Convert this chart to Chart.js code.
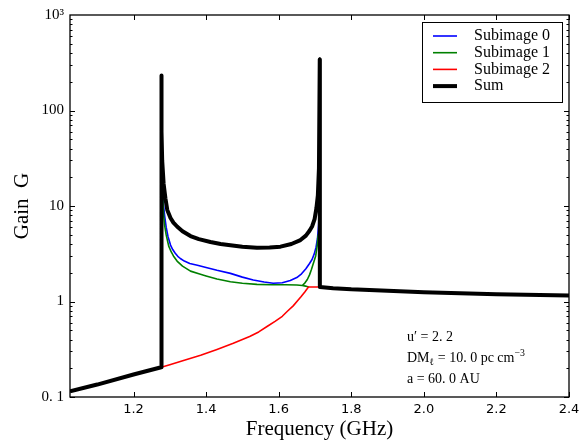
<!DOCTYPE html>
<html>
<head>
<meta charset="utf-8">
<script src="https://cdn.jsdelivr.net/npm/chart.js@4"></script>
<style>
  body { margin: 0; background: #fff; }
  canvas { display: block; }
</style>
</head>
<body>
<canvas id="gainChart" width="585" height="440"></canvas>
<script>
// values (frequency in GHz, gain G)
const blueFreq = [1.2772, 1.279, 1.281, 1.283, 1.286, 1.29, 1.295, 1.302, 1.308, 1.315, 1.322, 1.329, 1.34, 1.355, 1.376, 1.4, 1.43, 1.467, 1.5, 1.53, 1.56, 1.585, 1.61, 1.632, 1.65, 1.663, 1.675, 1.685, 1.692, 1.698, 1.703, 1.707, 1.71, 1.712, 1.7125, 1.7132];
const blueGain = [60, 20, 13, 10, 7.8, 6.0, 4.8, 3.9, 3.5, 3.2, 2.97, 2.82, 2.65, 2.5, 2.4, 2.27, 2.12, 1.97, 1.8, 1.68, 1.6, 1.55, 1.57, 1.66, 1.78, 1.95, 2.2, 2.5, 2.75, 3.15, 3.7, 4.6, 6.3, 9, 12, 40];

// subimage 1 folds back near 1.68 GHz, so its path runs back on itself
const greenFreq = [1.2772, 1.279, 1.281, 1.283, 1.286, 1.29, 1.297, 1.304, 1.31, 1.32, 1.335, 1.357, 1.38, 1.4, 1.43, 1.467, 1.5, 1.54, 1.58, 1.62, 1.65, 1.665, 1.674, 1.682, 1.674, 1.665, 1.672, 1.679, 1.685, 1.69, 1.697, 1.702, 1.706, 1.709, 1.711, 1.7128, 1.7132];
const greenGain = [60, 18, 11, 8, 6.2, 5, 3.8, 3.3, 3.0, 2.65, 2.35, 2.08, 1.95, 1.85, 1.72, 1.61, 1.55, 1.51, 1.5, 1.5, 1.49, 1.47, 1.45, 1.42, 1.45, 1.47, 1.56, 1.7, 1.9, 2.15, 2.6, 3.0, 3.8, 5, 7, 15, 40];

const redFreq = [1.025, 1.1, 1.2, 1.2765, 1.3, 1.34, 1.385, 1.43, 1.475, 1.5, 1.52, 1.545, 1.569, 1.59, 1.61, 1.624, 1.64, 1.652, 1.662, 1.672, 1.678, 1.682, 1.7135, 1.75, 1.8, 2.0, 2.2, 2.4];
const redGain = [0.115, 0.135, 0.172, 0.205, 0.218, 0.243, 0.274, 0.315, 0.365, 0.4, 0.43, 0.48, 0.55, 0.62, 0.7, 0.79, 0.9, 1.02, 1.13, 1.26, 1.35, 1.42, 1.42, 1.38, 1.34, 1.25, 1.19, 1.155];

const sumFreq = [1.025, 1.1, 1.2, 1.2765, 1.2768, 1.2775, 1.279, 1.283, 1.288, 1.293, 1.302, 1.31, 1.32, 1.335, 1.357, 1.38, 1.412, 1.44, 1.467, 1.5, 1.54, 1.575, 1.605, 1.635, 1.66, 1.675, 1.685, 1.692, 1.699, 1.704, 1.708, 1.711, 1.7132, 1.7135, 1.75, 1.8, 2.0, 2.2, 2.4];
const sumGain = [0.115, 0.135, 0.172, 0.205, 232, 60, 30, 17, 12, 9.1, 7.5, 6.7, 6.1, 5.45, 4.85, 4.5, 4.2, 4.0, 3.88, 3.75, 3.65, 3.67, 3.75, 4.0, 4.4, 4.9, 5.5, 6.1, 7.3, 9.5, 13, 25, 343, 1.42, 1.38, 1.34, 1.25, 1.19, 1.155];

const xTicks = [1.2, 1.4, 1.6, 1.8, 2.0, 2.2, 2.4];
const yTicks = [0.1, 1, 10, 100, 1000];
const yTickLabels = ['0. 1', '1', '10', '100', '10³'];

const seriesLabels = ['Subimage 0', 'Subimage 1', 'Subimage 2', 'Sum'];

const SERIF = '"Liberation Serif", "DejaVu Serif", serif';

function toPoints(xs, ys) {
    return xs.map((x, i) => ({ x: x, y: ys[i] }));
}

// lower order is painted last (on top), so Sum gets order 0
function lineSet(label, xs, ys, color, width, order) {
    return {
        label: label,
        data: toPoints(xs, ys),
        borderColor: color,
        borderWidth: width,
        order: order,
        pointRadius: 0,
        tension: 0,
        fill: false,
        borderJoinStyle: 'round'
    };
}

// inward ticks on all four sides, plus the frame
const frameAndTicks = {
    id: 'frameAndTicks',
    afterDatasetsDraw(chart) {
        const ctx = chart.ctx;
        const a = chart.chartArea;
        const xs = chart.scales.x;
        const ys = chart.scales.y;
        ctx.save();
        ctx.strokeStyle = '#000';
        ctx.lineWidth = 1;
        ctx.beginPath();
        xTicks.forEach(v => {
            const px = Math.round(xs.getPixelForValue(v)) + 0.5;
            ctx.moveTo(px, a.bottom); ctx.lineTo(px, a.bottom - 5);
            ctx.moveTo(px, a.top); ctx.lineTo(px, a.top + 5);
        });
        for (let d = 0.1; d < 1000; d *= 10) {
            for (let m = 1; m <= 9; m++) {
                const v = d * m;
                const len = m === 1 ? 5 : 2.5;
                const py = Math.round(ys.getPixelForValue(v)) + 0.5;
                ctx.moveTo(a.left, py); ctx.lineTo(a.left + len, py);
                ctx.moveTo(a.right, py); ctx.lineTo(a.right - len, py);
            }
        }
        ctx.stroke();
        ctx.lineWidth = 1.3;
        ctx.strokeRect(a.left, a.top, a.right - a.left, a.bottom - a.top);
        ctx.restore();
    }
};

function drawRuns(ctx, runs, x, y, size) {
    let cx = x;
    runs.forEach(r => {
        const s = r.sub || r.sup ? size * 0.7 : size;
        const dy = r.sub ? 4 : (r.sup ? -5 : 0);
        ctx.font = s + 'px ' + SERIF;
        ctx.fillText(r.t, cx, y + dy);
        cx += ctx.measureText(r.t).width;
    });
}

// legend box inside the plot and the parameter text
const legendAndNotes = {
    id: 'legendAndNotes',
    afterDraw(chart) {
        const ctx = chart.ctx;
        const a = chart.chartArea;
        ctx.save();
        const bx = a.right - 147, by = a.top + 7, bw = 140, bh = 80;
        ctx.fillStyle = '#fff';
        ctx.fillRect(bx, by, bw, bh);
        ctx.strokeStyle = '#000';
        ctx.lineWidth = 1;
        ctx.strokeRect(bx + 0.5, by + 0.5, bw, bh);
        ctx.textBaseline = 'middle';
        ctx.textAlign = 'left';
        chart.data.datasets.forEach((ds, i) => {
            const ry = by + 14 + i * 16.7;
            ctx.beginPath();
            ctx.strokeStyle = ds.borderColor;
            ctx.lineWidth = ds.borderWidth;
            ctx.moveTo(bx + 11, ry);
            ctx.lineTo(bx + 35, ry);
            ctx.stroke();
            ctx.fillStyle = '#000';
            ctx.font = '16px ' + SERIF;
            ctx.fillText(ds.label, bx + 52, ry);
        });

        ctx.fillStyle = '#000';
        const tx = a.right - 162;
        drawRuns(ctx, [{ t: 'u′ = 2. 2' }], tx, a.bottom - 60, 14);
        drawRuns(ctx, [{ t: 'DM' }, { t: 'ℓ', sub: true }, { t: ' = 10. 0 pc cm' }, { t: '−3', sup: true }], tx, a.bottom - 39, 14);
        drawRuns(ctx, [{ t: 'a = 60. 0 AU' }], tx, a.bottom - 18, 14);
        ctx.restore();
    }
};

new Chart(document.getElementById('gainChart'), {
    type: 'line',
    data: {
        datasets: [
            lineSet(seriesLabels[0], blueFreq, blueGain, '#0000ff', 1.6, 3),
            lineSet(seriesLabels[1], greenFreq, greenGain, '#008000', 1.6, 2),
            lineSet(seriesLabels[2], redFreq, redGain, '#ff0000', 1.6, 1),
            lineSet(seriesLabels[3], sumFreq, sumGain, '#000000', 4, 0)
        ]
    },
    options: {
        responsive: false,
        animation: false,
        layout: { padding: { top: 11, right: 16, left: 0, bottom: 0 } },
        plugins: {
            legend: { display: false },
            tooltip: { enabled: false }
        },
        scales: {
            x: {
                type: 'linear',
                min: 1.025,
                max: 2.4,
                afterBuildTicks: scale => { scale.ticks = xTicks.map(v => ({ value: v })); },
                afterFit: scale => { scale.height = 43; },
                grid: { display: false, drawTicks: false },
                border: { display: false },
                ticks: {
                    padding: 5,
                    color: '#000',
                    font: { family: '"DejaVu Sans", sans-serif', size: 13 },
                    callback: v => v.toFixed(1),
                    maxRotation: 0,
                    autoSkip: false
                },
                title: {
                    display: true,
                    text: 'Frequency (GHz)',
                    color: '#000',
                    font: { family: SERIF, size: 21, lineHeight: 1.0 },
                    padding: { top: 0, bottom: 0 }
                }
            },
            y: {
                type: 'logarithmic',
                min: 0.1,
                max: 1000,
                afterBuildTicks: scale => { scale.ticks = yTicks.map(v => ({ value: v })); },
                afterFit: scale => { scale.width = 70; },
                grid: { display: false, drawTicks: false },
                border: { display: false },
                ticks: {
                    padding: 6,
                    color: '#000',
                    font: { family: SERIF, size: 15 },
                    callback: v => {
                        const i = yTicks.findIndex(t => Math.abs(t - v) < t * 1e-6);
                        return i >= 0 ? yTickLabels[i] : '';
                    },
                    autoSkip: false
                },
                title: {
                    display: true,
                    text: 'Gain  G',
                    color: '#000',
                    font: { family: SERIF, size: 21, lineHeight: 1.2 },
                    padding: { top: 10, bottom: 0 }
                }
            }
        }
    },
    plugins: [frameAndTicks, legendAndNotes]
});
</script>
</body>
</html>
